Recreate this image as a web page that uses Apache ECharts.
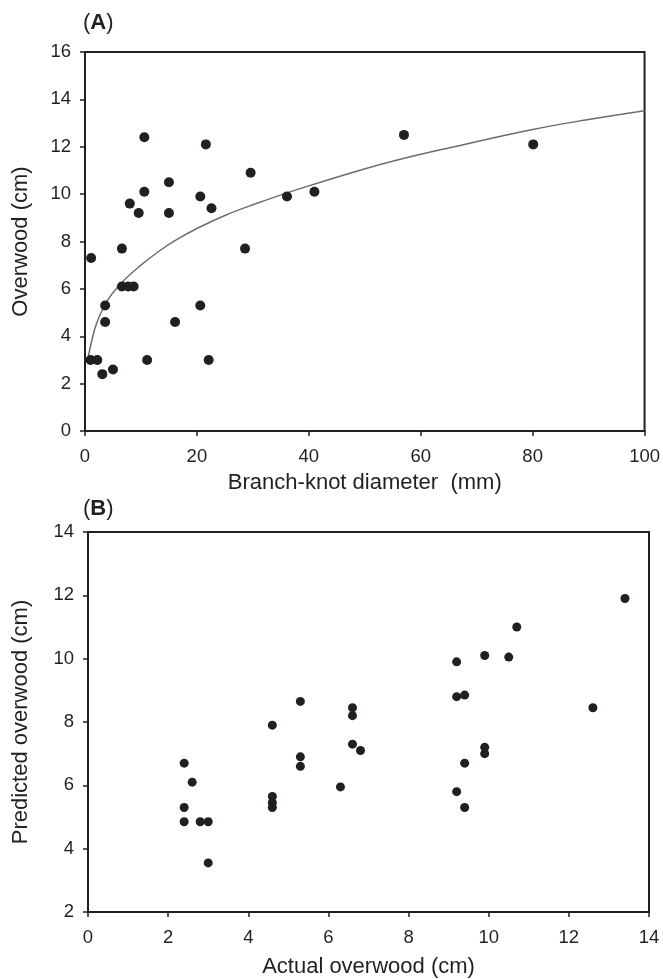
<!DOCTYPE html>
<html>
<head>
<meta charset="utf-8">
<script src="https://cdn.jsdelivr.net/npm/echarts@6/dist/echarts.min.js"></script>
<style>
html,body{margin:0;padding:0;background:#fff;}
#c{width:663px;height:979px;}
</style>
</head>
<body>
<div id="c"></div>
<script>
// Panel A: branch-knot diameter (mm) vs overwood (cm)
var knotDiameter = [10.6, 21.6, 29.6, 15.0, 10.6, 36.1, 41.0, 20.6, 8.0, 9.6, 15.0, 22.6, 6.6, 28.6, 1.1, 6.6, 7.7, 8.7, 3.6, 3.6, 20.6, 16.1, 1.0, 2.2, 11.1, 22.1, 3.1, 5.0, 57.0, 80.1];
var overwoodA    = [12.4, 12.1, 10.9, 10.5, 10.1, 9.9, 10.1, 9.9, 9.6, 9.2, 9.2, 9.4, 7.7, 7.7, 7.3, 6.1, 6.1, 6.1, 5.3, 4.6, 5.3, 4.6, 3.0, 3.0, 3.0, 3.0, 2.4, 2.6, 12.5, 12.1];
// Fitted trend curve
var curveX = [0.4, 1, 2, 4, 6.5, 10, 13.4, 16.3, 20, 25, 30, 38, 49, 56, 65, 80, 90, 100];
var curveY = [2.9, 3.6, 4.5, 5.5, 6.25, 7.0, 7.62, 8.07, 8.55, 9.1, 9.55, 10.2, 11.0, 11.45, 11.95, 12.73, 13.15, 13.52];

// Panel B: actual vs predicted overwood (cm)
var actualB    = [2.4, 2.6, 2.4, 2.4, 2.8, 3.0, 3.0, 4.6, 4.6, 4.6, 4.6, 5.3, 5.3, 5.3, 6.6, 6.6, 6.6, 6.8, 6.3, 13.4, 10.7, 9.9, 10.5, 9.2, 9.2, 9.4, 12.6, 9.9, 9.9, 9.4, 9.2, 9.4];
var predictedB = [6.7, 6.1, 5.3, 4.85, 4.85, 4.85, 3.55, 7.9, 5.65, 5.45, 5.3, 8.65, 6.9, 6.6, 8.45, 8.2, 7.3, 7.1, 5.95, 11.9, 11.0, 10.1, 10.05, 9.9, 8.8, 8.85, 8.45, 7.2, 7.0, 6.7, 5.8, 5.3];

// Tick settings
var xTicksA = {min: 0, max: 100, interval: 20};
var yTicksA = {min: 0, max: 16, interval: 2};
var xTicksB = {min: 0, max: 14, interval: 2};
var yTicksB = {min: 2, max: 14, interval: 2};

function zip(a, b) { return a.map(function (v, i) { return [v, b[i]]; }); }

var ink = '#231f20';
var font = 'Liberation Sans, Arial, sans-serif';

function axisCommon(t, name, gap, isY) {
  return {
    type: 'value', min: t.min, max: t.max, interval: t.interval,
    name: name, nameLocation: 'middle', nameGap: gap,
    nameTextStyle: {fontSize: 22, color: ink, fontFamily: font},
    axisLine: {show: true, onZero: false, lineStyle: {color: ink, width: 2}},
    axisTick: {show: true, inside: false, length: 5, lineStyle: {color: ink, width: 1.5}},
    axisLabel: {fontSize: 18.5, color: ink, fontFamily: font, margin: isY ? 14 : 16},
    splitLine: {show: false}
  };
}

var chart = echarts.init(document.getElementById('c'), null, {renderer: 'canvas'});
chart.setOption({
  backgroundColor: '#fff',
  animation: false,
  title: [
    {text: '({a|A})', left: 78, top: 7, textStyle: {fontSize: 22, fontWeight: 'normal', color: ink, fontFamily: font, rich: {a: {fontSize: 22, fontWeight: 'bold', color: ink, fontFamily: font}}}},
    {text: '({a|B})', left: 78, top: 493, textStyle: {fontSize: 22, fontWeight: 'normal', color: ink, fontFamily: font, rich: {a: {fontSize: 22, fontWeight: 'bold', color: ink, fontFamily: font}}}}
  ],
  grid: [
    {left: 85, top: 52, width: 561, height: 379, show: true, borderColor: ink, borderWidth: 2, backgroundColor: 'transparent'},
    {left: 88, top: 532, width: 561, height: 380, show: true, borderColor: ink, borderWidth: 2, backgroundColor: 'transparent'}
  ],
  xAxis: [
    Object.assign(axisCommon(xTicksA, 'Branch-knot diameter  (mm)', 41, false), {gridIndex: 0}),
    Object.assign(axisCommon(xTicksB, 'Actual overwood (cm)', 44, false), {gridIndex: 1})
  ],
  yAxis: [
    Object.assign(axisCommon(yTicksA, 'Overwood (cm)', 53, true), {gridIndex: 0}),
    Object.assign(axisCommon(yTicksB, 'Predicted overwood (cm)', 56, true), {gridIndex: 1})
  ],
  series: [
    {type: 'line', xAxisIndex: 0, yAxisIndex: 0, data: zip(curveX, curveY), smooth: 0.4, showSymbol: false, lineStyle: {color: '#6d6d6d', width: 1.5}, z: 2},
    {type: 'scatter', xAxisIndex: 0, yAxisIndex: 0, data: zip(knotDiameter, overwoodA), symbolSize: 10, itemStyle: {color: ink, opacity: 1}, z: 3},
    {type: 'scatter', xAxisIndex: 1, yAxisIndex: 1, data: zip(actualB, predictedB), symbolSize: 9, itemStyle: {color: ink, opacity: 1}, z: 3}
  ]
});
</script>
</body>
</html>
